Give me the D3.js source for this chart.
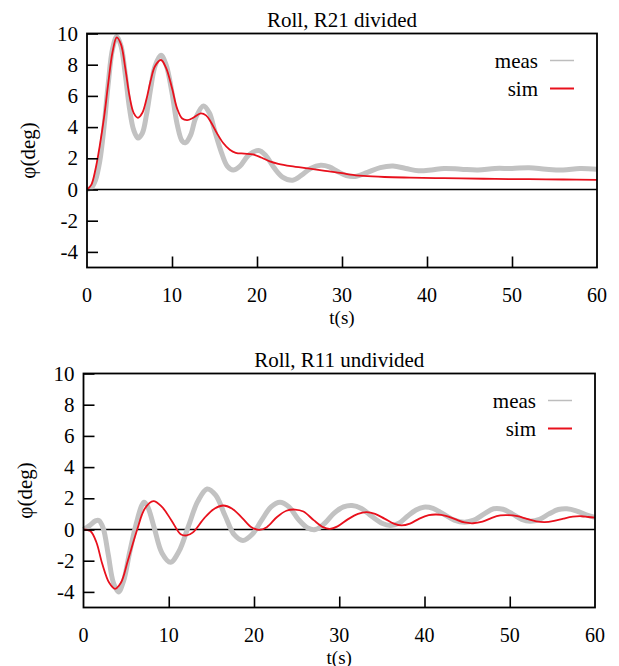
<!DOCTYPE html>
<html>
<head>
<meta charset="utf-8">
<script src="https://cdn.jsdelivr.net/npm/d3@7"></script>
<style>
  body { margin: 0; background: #fff; }
  text { font-family: 'Liberation Serif', 'DejaVu Serif', serif; }
</style>
</head>
<body>
<svg id="chart" width="619" height="666"></svg>
<script>
// axis ticks
var xTicks = [0, 10, 20, 30, 40, 50, 60],
    yTicks = [-4, -2, 0, 2, 4, 6, 8, 10];

// top panel: Roll, R21 divided
var t1Meas = [0, 0.5, 1, 1.5, 2, 2.5, 3, 3.5, 4, 4.5, 5, 5.5, 6, 6.5, 7, 7.5, 8, 8.7, 9.3, 10, 10.6, 11.2, 11.6, 12.2, 12.8, 13.7, 14.4, 15, 15.8, 16.5, 17.2, 18, 19, 20.2, 21, 22, 23, 24.2, 25.2, 26.3, 27.5, 28.5, 29.5, 30.5, 31.7, 33, 34.5, 36, 37.5, 39, 40.5, 42, 44, 46, 48, 50, 52, 54, 56, 58, 60];
var y1Meas = [0, 0.1, 0.6, 1.8, 4.0, 6.8, 9.0, 9.8, 9.2, 7.4, 5.2, 3.8, 3.3, 3.6, 4.8, 6.5, 7.9, 8.6, 8.0, 6.2, 4.2, 3.1, 3.0, 3.5, 4.6, 5.35, 4.9, 3.8, 2.4, 1.5, 1.25, 1.5, 2.2, 2.5, 2.2, 1.4, 0.8, 0.6, 0.9, 1.35, 1.55, 1.45, 1.15, 0.9, 0.85, 1.1, 1.4, 1.5, 1.35, 1.2, 1.25, 1.35, 1.3, 1.25, 1.35, 1.35, 1.4, 1.3, 1.25, 1.35, 1.3];
var t1Sim = [0, 0.5, 1, 1.5, 2, 2.5, 3, 3.5, 4, 4.5, 5, 5.5, 6, 6.5, 7, 7.5, 8, 8.7, 9.3, 10, 10.6, 11.2, 11.8, 12.5, 13.4, 14, 14.6, 15.3, 16, 16.8, 17.5, 18.5, 19.5, 20.5, 21.5, 22.5, 24, 26, 28, 30, 31, 32.5, 35, 38, 41, 44, 48, 52, 56, 60];
var y1Sim = [0, 0.3, 1.3, 2.8, 4.6, 6.8, 8.8, 9.75, 9.3, 7.8, 6.0, 4.9, 4.6, 4.9, 5.8, 7.0, 7.9, 8.3, 7.8, 6.5, 5.2, 4.55, 4.45, 4.6, 4.88, 4.75, 4.3, 3.6, 3.0, 2.55, 2.35, 2.3, 2.25, 2.05, 1.8, 1.65, 1.5, 1.35, 1.2, 1.05, 0.95, 0.87, 0.8, 0.76, 0.73, 0.71, 0.68, 0.66, 0.64, 0.62];

// bottom panel: Roll, R11 undivided
var t2Meas = [0, 0.7, 1.4, 1.8, 2.3, 2.9, 3.5, 4.1, 4.7, 5.4, 6.2, 6.8, 7.1, 7.5, 8.3, 9.2, 10.2, 11.2, 12.3, 13.4, 14.5, 15.5, 16.6, 17.7, 18.7, 19.8, 20.9, 22, 23.05, 24.1, 25.2, 26.3, 27.2, 28.3, 29.4, 30.5, 31.5, 32.6, 33.8, 35, 36, 37, 38, 39, 39.9, 41, 42.2, 43.5, 44.7, 45.8, 47, 48.1, 49.2, 50.3, 51.4, 52.4, 53.5, 54.6, 55.7, 56.7, 57.8, 58.9, 60];
var y2Meas = [0, 0.25, 0.55, 0.58, 0.1, -1.6, -3.4, -4.0, -3.3, -1.5, 0.4, 1.5, 1.75, 1.5, 0.1, -1.5, -2.1, -1.4, 0.2, 1.8, 2.6, 2.2, 0.9, -0.35, -0.7, -0.3, 0.6, 1.45, 1.75, 1.45, 0.65, 0.1, 0.0, 0.4, 1.05, 1.45, 1.54, 1.35, 0.85, 0.4, 0.26, 0.4, 0.85, 1.25, 1.43, 1.35, 1.0, 0.6, 0.47, 0.6, 1.0, 1.33, 1.3, 1.0, 0.65, 0.53, 0.65, 1.0, 1.28, 1.33, 1.2, 0.95, 0.78];
var t2Sim = [0, 0.8, 1.5, 2.2, 3, 3.7, 4.4, 5.2, 6.3, 7.2, 8.2, 9.2, 10.3, 11.4, 12.1, 12.8, 14.2, 15.4, 16.4, 17.4, 18.6, 19.7, 20.6, 21.5, 22.7, 23.8, 24.8, 25.8, 27, 28.1, 28.9, 29.8, 31, 32.2, 33.2, 34.2, 35.3, 36.4, 37.3, 38.3, 39.4, 40.5, 41.4, 42.5, 43.6, 44.7, 45.7, 46.8, 47.9, 48.9, 49.8, 50.9, 52, 53.1, 54.1, 55.2, 56.3, 57.4, 58.4, 59.2, 60];
var y2Sim = [0, -0.1, -0.8, -2.2, -3.4, -3.8, -3.4, -2.0, 0, 1.35, 1.82, 1.45, 0.6, -0.3, -0.38, -0.2, 0.75, 1.35, 1.54, 1.35, 0.75, 0.15, -0.02, 0.15, 0.8, 1.2, 1.28, 1.15, 0.6, 0.15, 0.04, 0.2, 0.65, 1.0, 1.11, 1.0, 0.7, 0.38, 0.26, 0.38, 0.7, 0.92, 0.96, 0.88, 0.66, 0.45, 0.4, 0.5, 0.75, 0.9, 0.92, 0.85, 0.68, 0.52, 0.47, 0.55, 0.7, 0.82, 0.85, 0.8, 0.76];

var svg = d3.select('#chart');

function panel(opts) {
  var x = d3.scaleLinear().domain([0, 60]).range([opts.left, opts.right]),
      y = d3.scaleLinear().domain([-5, 10]).range([opts.bottom, opts.top]);

  var g = svg.append('g')
      .attr('font-family', "'Liberation Serif', 'DejaVu Serif', serif")
      .attr('font-size', 21);

  var line = d3.line()
      .x(function(d) { return x(d[0]); })
      .y(function(d) { return y(d[1]); })
      .curve(d3.curveCatmullRom);

  // zero line
  g.append('line')
      .attr('x1', x(0)).attr('x2', x(60))
      .attr('y1', y(0)).attr('y2', y(0))
      .style('stroke', '#000')
      .style('stroke-width', 1.6);

  g.append('path')
      .datum(d3.zip(opts.tMeas, opts.yMeas))
      .attr('d', line)
      .style('fill', 'none')
      .style('stroke', '#c2c2c2')
      .style('stroke-width', 5)
      .style('stroke-linejoin', 'round');

  g.append('path')
      .datum(d3.zip(opts.tSim, opts.ySim))
      .attr('d', line)
      .style('fill', 'none')
      .style('stroke', '#e8101c')
      .style('stroke-width', 1.8)
      .style('stroke-linejoin', 'round');

  // y axis ticks (inside) and labels
  g.append('g')
      .attr('transform', 'translate(' + opts.left + ',0)')
      .call(d3.axisRight(y).tickValues(yTicks).tickSize(11).tickFormat(''))
      .call(function(a) {
        a.select('.domain').remove();
        a.selectAll('line').style('stroke', '#000').style('stroke-width', 1.6);
      });

  g.selectAll('.ylab')
      .data(yTicks)
    .enter().append('text')
      .attr('x', opts.left - 9)
      .attr('y', function(d) { return y(d) + 7; })
      .attr('text-anchor', 'end')
      .text(function(d) { return d; });

  // x axis ticks (inside) and labels
  g.append('g')
      .attr('transform', 'translate(0,' + opts.bottom + ')')
      .call(d3.axisTop(x).tickValues(xTicks.slice(1, -1)).tickSize(11).tickFormat(''))
      .call(function(a) {
        a.select('.domain').remove();
        a.selectAll('line').style('stroke', '#000').style('stroke-width', 1.6);
      });

  g.selectAll('.xlab')
      .data(xTicks)
    .enter().append('text')
      .attr('x', function(d) { return x(d); })
      .attr('y', opts.bottom + 34)
      .attr('text-anchor', 'middle')
      .attr('font-size', 20)
      .text(function(d) { return d; });

  g.append('text')
      .attr('x', (opts.left + opts.right) / 2)
      .attr('y', opts.bottom + 56)
      .attr('text-anchor', 'middle')
      .attr('font-size', 19)
      .text('t(s)');

  g.append('text')
      .attr('transform', 'translate(' + (opts.left - 52) + ',' + ((opts.top + opts.bottom) / 2) + ') rotate(-90)')
      .attr('text-anchor', 'middle')
      .text('φ(deg)');

  g.append('text')
      .attr('x', (opts.left + opts.right) / 2)
      .attr('y', opts.top - 7)
      .attr('text-anchor', 'middle')
      .text(opts.title);

  // frame
  g.append('rect')
      .attr('x', opts.left).attr('y', opts.top)
      .attr('width', opts.right - opts.left)
      .attr('height', opts.bottom - opts.top)
      .style('fill', 'none')
      .style('stroke', '#000')
      .style('stroke-width', 1.8);

  // legend
  var legend = [['meas', '#bdbdbd', 1.5], ['sim', '#e8101c', 2]];
  legend.forEach(function(l, i) {
    var ly = opts.top + 27 + i * 28;
    g.append('text')
        .attr('x', opts.right - 59)
        .attr('y', ly + 7)
        .attr('text-anchor', 'end')
        .text(l[0]);
    g.append('line')
        .attr('x1', opts.right - 47).attr('x2', opts.right - 23)
        .attr('y1', ly).attr('y2', ly)
        .style('stroke', l[1])
        .style('stroke-width', l[2]);
  });
}

panel({
  left: 87, right: 597, top: 33.5, bottom: 267.5,
  title: 'Roll, R21 divided',
  tMeas: t1Meas, yMeas: y1Meas, tSim: t1Sim, ySim: y1Sim
});

panel({
  left: 83.5, right: 595, top: 373.5, bottom: 607.5,
  title: 'Roll, R11 undivided',
  tMeas: t2Meas, yMeas: y2Meas, tSim: t2Sim, ySim: y2Sim
});
</script>
</body>
</html>
